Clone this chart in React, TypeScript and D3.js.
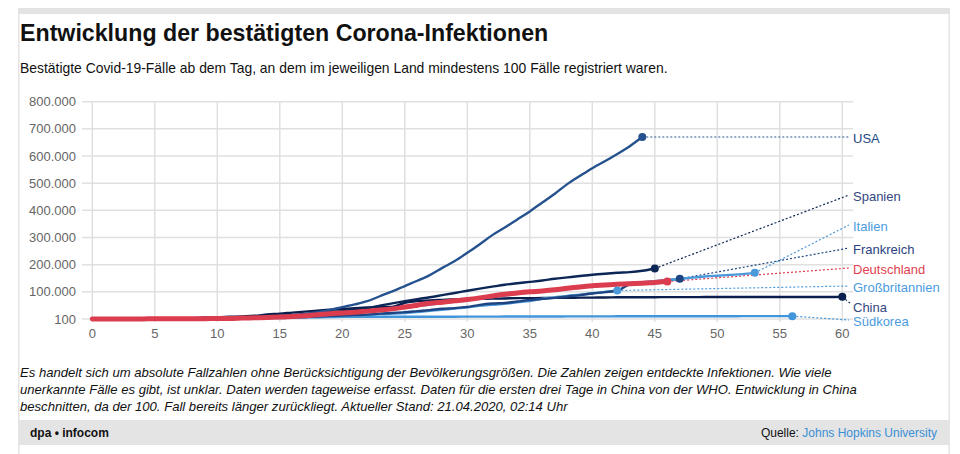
import React from "react";
import * as d3 from "d3";

// ---------- DATA (cumulative confirmed cases, day 0 = first day with >= 100 cases) ----------
const xTicks = [0, 5, 10, 15, 20, 25, 30, 35, 40, 45, 50, 55, 60];
const yTicks = [100, 100000, 200000, 300000, 400000, 500000, 600000, 700000, 800000];

const usa = [118, 149, 217, 262, 402, 518, 583, 959, 1281, 1663, 2179, 2727, 3499, 4632, 6421, 7786, 13680, 19101, 25493, 33276, 43847, 53740, 65778, 83836, 101657, 121478, 140886, 161807, 188172, 213372, 243762, 275586, 308853, 337072, 366667, 396223, 429052, 461437, 496535, 526396, 555313, 580619, 607670, 636350, 670000];
const spanien = [120, 165, 222, 259, 400, 500, 673, 1073, 1695, 2277, 2277, 5232, 6391, 7798, 9942, 11748, 13910, 17963, 20410, 25374, 28768, 35136, 39885, 49515, 57786, 65719, 73235, 80110, 87956, 95923, 104118, 112065, 119199, 126168, 131646, 136675, 141942, 148220, 153222, 158273, 163027, 166831, 170099, 172541, 177644, 186000];
const italien = [155, 229, 322, 453, 655, 888, 1128, 1694, 2036, 2502, 3089, 3858, 4636, 5883, 7375, 9172, 10149, 12462, 12462, 17660, 21157, 24747, 27980, 31506, 35713, 41035, 47021, 53578, 59138, 63927, 69176, 74386, 80589, 86498, 92472, 97689, 101739, 105792, 110574, 115242, 119827, 124632, 128948, 132547, 135586, 139422, 143626, 147577, 152271, 156363, 159516, 162488, 165155, 170000];
const frankreich = [100, 130, 191, 204, 288, 380, 656, 957, 1130, 1212, 1784, 2284, 2284, 3667, 4480, 4513, 6650, 7699, 9105, 10947, 12726, 14431, 16176, 19856, 22304, 25233, 29155, 32964, 37575, 40174, 44550, 52128, 56989, 59105, 64338, 70000, 74000, 78000, 83000, 88000, 94000, 99000, 104000, 128000, 133000, 137000, 143000, 148000];
const deutschland = [130, 159, 196, 262, 482, 670, 799, 1040, 1176, 1457, 1908, 2078, 3675, 4585, 5795, 7272, 9257, 12327, 15320, 19848, 22213, 24873, 29056, 32986, 37323, 43938, 50871, 57695, 62095, 66885, 71808, 77872, 84794, 91159, 96092, 100123, 103374, 107663, 113296, 118181, 122171, 124908, 127854, 130072, 131359, 134753, 138000];
const grossbritannien = [116, 164, 207, 274, 322, 384, 459, 459, 802, 1144, 1145, 1551, 1960, 2642, 2716, 4014, 5067, 5745, 6726, 8164, 9640, 11812, 14745, 17312, 19780, 22453, 25481, 29865, 34173, 38689, 42477, 48436, 52279, 55949, 61474, 65872, 74605, 79874, 85206, 89570, 94845, 99483, 105000];
const china = [198, 291, 440, 548, 643, 920, 1406, 2075, 2877, 5509, 6087, 8141, 9802, 11891, 16630, 19716, 23707, 27440, 30587, 34110, 36814, 39829, 42354, 44386, 44759, 59895, 66358, 68413, 70513, 72434, 74211, 74619, 75077, 75550, 77001, 77022, 77241, 77754, 78166, 78600, 78928, 79356, 79932, 80136, 80261, 80386, 80537, 80690, 80770, 80823, 80860, 80887, 80921, 80932, 80945, 80977, 81003, 81033, 81058, 81102, 81600];
const suedkorea = [104, 204, 433, 602, 833, 977, 1261, 1766, 2337, 3150, 3736, 4335, 5186, 5621, 6088, 6593, 7041, 7314, 7478, 7513, 7755, 7869, 7979, 8086, 8162, 8236, 8320, 8413, 8565, 8652, 8799, 8897, 8961, 9037, 9137, 9241, 9332, 9478, 9583, 9661, 9786, 9887, 9976, 10062, 10156, 10237, 10284, 10331, 10384, 10423, 10450, 10480, 10512, 10537, 10564, 10591, 10613];

const countryNames = ["USA", "Spanien", "Italien", "Frankreich", "Deutschland", "Großbritannien", "China", "Südkorea"];
const countryValues = [usa, spanien, italien, frankreich, deutschland, grossbritannien, china, suedkorea];

const title = "Entwicklung der bestätigten Corona-Infektionen";
const subtitle = "Bestätigte Covid-19-Fälle ab dem Tag, an dem im jeweiligen Land mindestens 100 Fälle registriert waren.";
const notes = [
  "Es handelt sich um absolute Fallzahlen ohne Berücksichtigung der Bevölkerungsgrößen. Die Zahlen zeigen entdeckte Infektionen. Wie viele",
  "unerkannte Fälle es gibt, ist unklar. Daten werden tageweise erfasst. Daten für die ersten drei Tage in China von der WHO. Entwicklung in China",
  "beschnitten, da der 100. Fall bereits länger zurückliegt. Aktueller Stand: 21.04.2020, 02:14 Uhr",
];

// ---------- STYLE / LAYOUT ----------
const styles: Record<string, { line: string; label: string; width: number; labelY: number }> = {
  USA: { line: "#25528e", label: "#24477f", width: 2.4, labelY: 138 },
  Spanien: { line: "#0c2656", label: "#34467f", width: 2.4, labelY: 196 },
  Italien: { line: "#4a99da", label: "#4a9be0", width: 2.4, labelY: 226 },
  Frankreich: { line: "#1e4582", label: "#2b4380", width: 2.4, labelY: 249 },
  Deutschland: { line: "#db3c4e", label: "#df3f50", width: 5, labelY: 269 },
  "Großbritannien": { line: "#4b9bdb", label: "#4a9be0", width: 2.4, labelY: 287 },
  China: { line: "#0a1f4e", label: "#34467f", width: 2.4, labelY: 307 },
  "Südkorea": { line: "#4195db", label: "#4a9be0", width: 2.4, labelY: 321 },
};
const drawOrder = ["Südkorea", "China", "Großbritannien", "Frankreich", "Italien", "Spanien", "USA", "Deutschland"];

const W = 960;
const H = 454;
const FONT = "'Liberation Sans', Arial, Helvetica, sans-serif";

const de = d3.formatLocale({ decimal: ",", thousands: ".", grouping: [3], currency: ["", " €"] });
const fmt = de.format(",d");

export default function App() {
  const x = d3.scaleLinear().domain([0, 60]).range([92.3, 842.3]);
  const y = d3.scaleLinear().domain([100, 800000]).range([319, 101.7]);
  const line = d3
    .line<number>()
    .x((_, i) => x(i))
    .y((d) => y(d))
    .curve(d3.curveMonotoneX);

  const labelX = 853;
  const series = countryNames.map((n, i) => ({ name: n, values: countryValues[i] }));
  const byName = new Map(series.map((s) => [s.name, s]));

  return (
    <svg
      width={W}
      height={H}
      style={{ position: "absolute", left: 0, top: 0, background: "#fff" }}
      fontFamily={FONT}
    >
      {/* frame */}
      <rect x={18} y={8} width={932} height={6} fill="#e3e3e3" />
      <rect x={18} y={8} width={1.5} height={H - 8} fill="#e3e3e3" />
      <rect x={948.5} y={8} width={1.5} height={H - 8} fill="#e3e3e3" />
      <rect x={18} y={420} width={932} height={25} fill="#e4e4e4" />

      <text x={20} y={41} fontSize={23.2} fontWeight="bold" fill="#111">
        {title}
      </text>
      <text x={20} y={73} fontSize={13.9} fill="#111">
        {subtitle}
      </text>

      {/* grid */}
      {yTicks.map((t) => (
        <g key={"y" + t}>
          <line x1={82} x2={853} y1={y(t)} y2={y(t)} stroke="#e0e0e0" strokeWidth={1.5} />
          <text x={76} y={y(t)} dy="0.35em" textAnchor="end" fontSize={13} fill="#666">
            {fmt(t)}
          </text>
        </g>
      ))}
      {xTicks.map((t) => (
        <g key={"x" + t}>
          <line x1={x(t)} x2={x(t)} y1={101} y2={322} stroke="#e0e0e0" strokeWidth={1.5} />
          <text x={x(t)} y={338} textAnchor="middle" fontSize={13} fill="#666">
            {t}
          </text>
        </g>
      ))}

      {/* connectors */}
      {drawOrder.map((n) => {
        const s = byName.get(n)!;
        const st = styles[n];
        const last = s.values.length - 1;
        const x0 = x(last);
        const y0 = y(s.values[last]);
        const x1 = n === "China" ? 850 : 849;
        const y1 = n === "China" ? st.labelY - 4 : st.labelY - 1;
        return (
          <line
            key={"c" + n}
            x1={x0}
            y1={y0}
            x2={x1}
            y2={y1}
            stroke={st.line}
            strokeWidth={1.2}
            strokeDasharray="2,2"
          />
        );
      })}

      {/* lines */}
      {drawOrder.map((n) => {
        const s = byName.get(n)!;
        const st = styles[n];
        return (
          <path
            key={"l" + n}
            d={line(s.values) || ""}
            fill="none"
            stroke={st.line}
            strokeWidth={st.width}
            strokeLinejoin="round"
            strokeLinecap="round"
          />
        );
      })}

      {/* end dots */}
      {drawOrder.map((n) => {
        const s = byName.get(n)!;
        const st = styles[n];
        const last = s.values.length - 1;
        return <circle key={"d" + n} cx={x(last)} cy={y(s.values[last])} r={4} fill={st.line} />;
      })}

      {/* labels */}
      {countryNames.map((n) => (
        <text key={"t" + n} x={labelX} y={styles[n].labelY} dy="0.35em" fontSize={13} fill={styles[n].label}>
          {n}
        </text>
      ))}

      {/* notes */}
      {notes.map((l, i) => (
        <text key={"n" + i} x={20} y={377 + i * 17} fontSize={13.1} fontStyle="italic" fill="#111">
          {l}
        </text>
      ))}

      {/* footer */}
      <text x={30} y={437} fontSize={12} fontWeight="bold" fill="#111">
        dpa • infocom
      </text>
      <text x={937} y={437} fontSize={12} textAnchor="end" fill="#111">
        Quelle: <tspan fill="#3a8fd6">Johns Hopkins University</tspan>
      </text>
    </svg>
  );
}
